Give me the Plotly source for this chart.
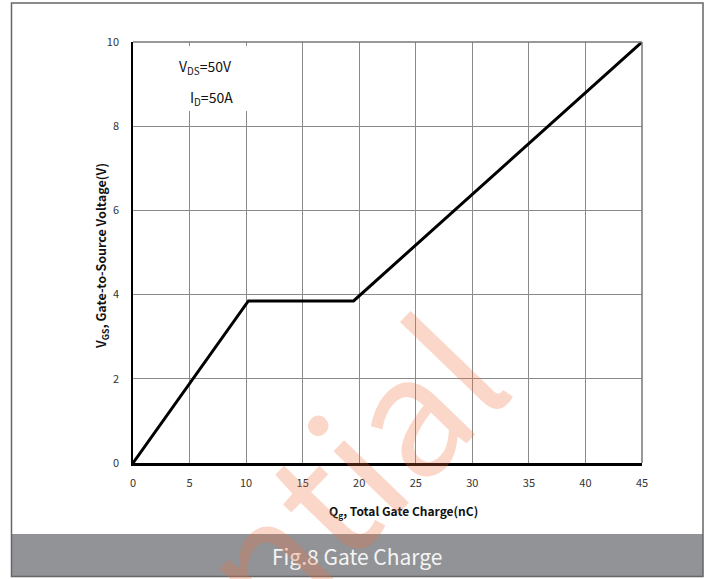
import plotly.graph_objects as go

# Data
qg_nc = [0, 10.2, 19.5, 45]
vgs_v = [0, 3.85, 3.85, 10]
x_ticks = [0, 5, 10, 15, 20, 25, 30, 35, 40, 45]
y_ticks = [0, 2, 4, 6, 8, 10]

W, H = 712, 579
L, R, T, B = 133, 642, 42, 463

FONT = "Noto Sans CJK SC"

fig = go.Figure()
fig.add_trace(go.Scatter(x=qg_nc, y=vgs_v, mode="lines",
                         line=dict(color="black", width=3), showlegend=False,
                         hoverinfo="skip"))

fig.update_layout(
    width=W, height=H,
    margin=dict(l=L, r=W - R, t=T, b=H - B, pad=0),
    paper_bgcolor="white", plot_bgcolor="white",
    font=dict(family=FONT, size=11, color="#333"),
    xaxis=dict(range=[0, 45], tickvals=x_ticks, showgrid=True,
               gridcolor="#8a8a8a", gridwidth=1, zeroline=False,
               showline=True, linecolor="black", linewidth=2.5,
               ticks="", ticklabelstandoff=8,
               tickfont=dict(family=FONT, size=11, color="#333")),
    yaxis=dict(range=[0, 10], tickvals=y_ticks, showgrid=True,
               gridcolor="#8a8a8a", gridwidth=1, zeroline=False,
               showline=True, linecolor="black", linewidth=1.5,
               ticks="", ticklabelstandoff=10,
               tickfont=dict(family=FONT, size=11, color="#333")),
)


def ax(xp):
    return (xp - L) / (R - L)


def ay(yp):
    return (B - yp) / (B - T)


shapes = []
# top/right plot frame (gray)
shapes.append(dict(type="line", xref="paper", yref="paper", x0=0, x1=1, y0=1, y1=1,
                   line=dict(color="#777", width=1.5)))
shapes.append(dict(type="line", xref="paper", yref="paper", x0=1, x1=1, y0=0, y1=1,
                   line=dict(color="#777", width=1.5)))
# white box behind condition annotations
shapes.append(dict(type="rect", xref="paper", yref="paper",
                   x0=ax(170), x1=ax(256), y0=ay(111), y1=ay(46),
                   fillcolor="white", line=dict(width=0), layer="above"))
# caption band
shapes.append(dict(type="rect", xref="paper", yref="paper",
                   x0=ax(12), x1=ax(703), y0=ay(577), y1=ay(534),
                   fillcolor="#929397", line=dict(width=0), layer="above"))
# outer border
shapes.append(dict(type="rect", xref="paper", yref="paper",
                   x0=ax(11.5), x1=ax(703), y0=ay(576.5), y1=ay(3),
                   line=dict(color="#666", width=1.5), layer="above"))
fig.update_layout(shapes=shapes)

C = dict(xref="paper", yref="paper", showarrow=False, xanchor="center", yanchor="middle")
annotations = [
    dict(text="V<sub>DS</sub>=50V", x=ax(205), y=ay(67),
         font=dict(family=FONT, size=14, color="#111"), **C),
    dict(text="I<sub>D</sub>=50A", x=ax(211), y=ay(98),
         font=dict(family=FONT, size=14, color="#111"), **C),
    dict(text="<b>Q<sub>g</sub>, Total Gate Charge(nC)</b>", x=ax(403), y=ay(511),
         font=dict(family=FONT, size=12, color="#111"), **C),
    dict(text="<b>V<sub>GS</sub>, Gate-to-Source Voltage(V)</b>", x=ax(101), y=ay(256),
         textangle=-90, font=dict(family=FONT, size=12.5, color="#111"), **C),
    dict(text="Fig.8 Gate Charge", x=ax(357), y=ay(556),
         font=dict(family=FONT, size=21, color="#f4f4f4"), **C),
    dict(text="ntial", x=ax(343), y=ay(466), textangle=-46,
         font=dict(family=FONT, size=166, color="rgba(238,112,60,0.28)"), **C),
]
fig.update_layout(annotations=annotations)

fig.write_html("out.html", config={"displayModeBar": False},
               post_script="document.body.style.margin='0';")
